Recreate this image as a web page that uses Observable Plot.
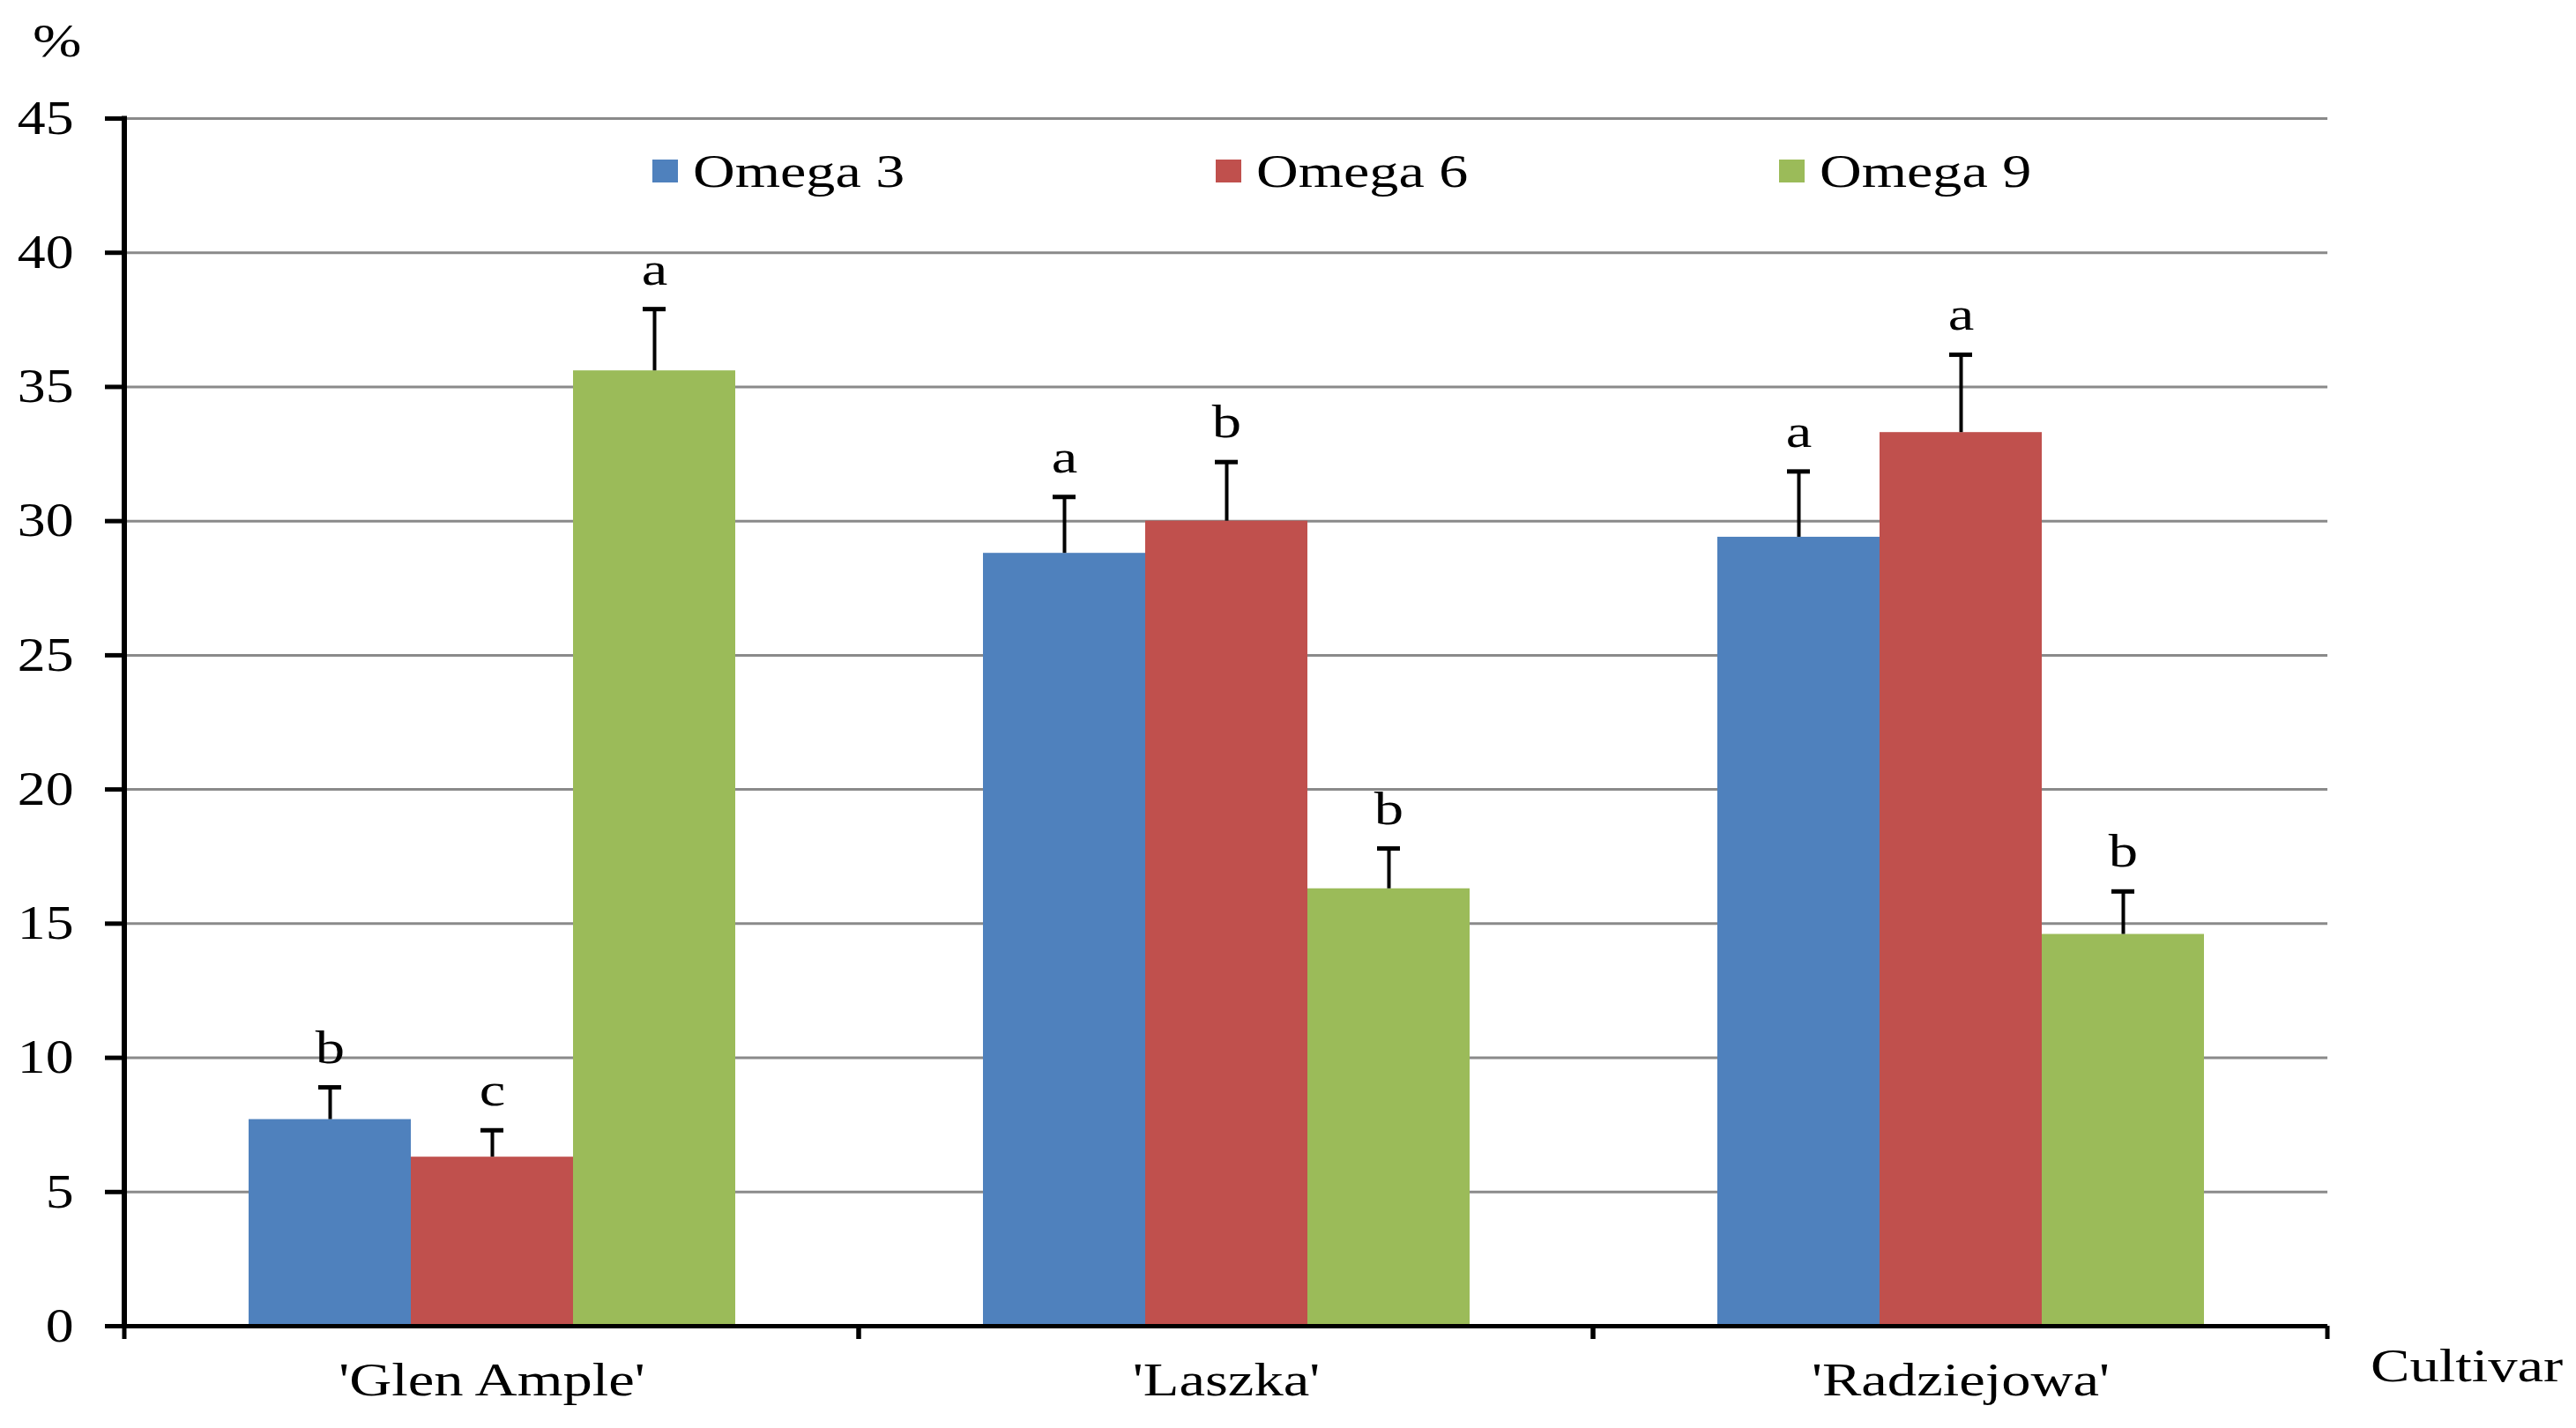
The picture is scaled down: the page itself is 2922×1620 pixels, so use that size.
<!DOCTYPE html>
<html>
<head>
<meta charset="utf-8">
<script src="https://cdn.jsdelivr.net/npm/d3@7"></script>
<script src="https://cdn.jsdelivr.net/npm/@observablehq/plot@0.6"></script>
<style>
  html, body { margin: 0; padding: 0; background: #fff; }
  #wrap { position: relative; width: 2922px; height: 1620px; font-family: "Liberation Serif", "DejaVu Serif", serif; color: #000; }
  #chart { position: absolute; left: 0; top: 0; }
  .lbl { position: absolute; font-size: 52px; line-height: 60px; white-space: nowrap; transform: scaleX(1.28); transform-origin: left center; }
  .leg { position: absolute; top: 164px; height: 60px; display: flex; align-items: center; font-size: 52px; white-space: nowrap; }
  .leg span { display: inline-block; transform: scaleX(1.27); transform-origin: left center; }
  .sw { width: 29px; height: 26px; margin-right: 17px; }
</style>
</head>
<body>
<div id="wrap">
  <div id="chart"></div>
  <div class="lbl" style="left:37px; top:17px;">%</div>
  <div class="lbl" style="left:2689px; top:1520px;">Cultivar</div>
  <div id="legend"></div>
</div>
<script>
// ---- data ----
const cultivars = ["'Glen Ample'", "'Laszka'", "'Radziejowa'"];
const series = ["Omega 3", "Omega 6", "Omega 9"];
const colors = ["#4F81BD", "#C0504D", "#9BBB59"];
const omega3 = [7.7, 28.8, 29.4];
const omega6 = [6.3, 30.0, 33.3];
const omega9 = [35.6, 16.3, 14.6];
const err3 = [1.2, 2.1, 2.45];
const err6 = [1.0, 2.2, 2.9];
const err9 = [2.3, 1.5, 1.6];
const letters3 = ["b", "a", "a"];
const letters6 = ["c", "b", "a"];
const letters9 = ["a", "b", "b"];
const yTicks = [0, 5, 10, 15, 20, 25, 30, 35, 40, 45];

const W = 2922, H = 1620;
const values = [omega3, omega6, omega9];
const errs = [err3, err6, err9];
const letters = [letters3, letters6, letters9];
const rows = [];
cultivars.forEach((c, i) => {
  series.forEach((s, j) => {
    rows.push({cultivar: c, series: s, value: values[j][i], top: values[j][i] + errs[j][i], letter: letters[j][i]});
  });
});

let calls = 0;
const decor = (index, scales, vals, dim) => {
  const g = d3.create("svg:g");
  const x0 = dim.marginLeft, x1 = dim.width - dim.marginRight;
  const y0 = scales.y(0), yTop = scales.y(45);
  let edges = [x0, x1];
  if (dim.width >= W && scales.fx) {
    edges = edges.concat(cultivars.slice(1).map(c => scales.fx(c)));
  }
  edges.forEach(x => {
    g.append("line").attr("x1", x).attr("x2", x).attr("y1", y0).attr("y2", y0 + 15)
      .attr("stroke", "#000").attr("stroke-width", 5);
  });
  if (calls++ === 0) {
    g.append("line").attr("x1", x0).attr("x2", x0).attr("y1", yTop - 2.5).attr("y2", y0 + 2.5)
      .attr("stroke", "#000").attr("stroke-width", 6);
  }
  return g.node();
};

const chart = Plot.plot({
  width: W,
  height: H,
  marginLeft: 140,
  marginRight: 281,
  marginTop: 134,
  marginBottom: 116,
  style: {fontFamily: "Liberation Serif, serif", fontSize: "52px", background: "transparent"},
  fx: {domain: cultivars, padding: 0, label: null},
  x: {domain: series, paddingInner: 0, paddingOuter: 0.76, axis: null},
  y: {domain: [0, 45], axis: null},
  color: {domain: series, range: colors},
  marks: [
    Plot.gridY(yTicks.filter(t => t > 0), {stroke: "#8a8a8a", strokeOpacity: 1, strokeWidth: 3}),
    Plot.barY(rows, {fx: "cultivar", x: "series", y: "value", fill: "series"}),
    Plot.ruleX(rows, {fx: "cultivar", x: "series", y1: "value", y2: "top", stroke: "#000", strokeWidth: 4}),
    Plot.tickY(rows, {fx: "cultivar", x: "series", y: "top", stroke: "#000", strokeWidth: 5, insetLeft: 79, insetRight: 79}),
    Plot.text(rows, {fx: "cultivar", x: "series", y: "top", text: "letter", lineAnchor: "bottom", dy: -28, fontSize: 52, fill: "#000"}),
    Plot.ruleY([0], {stroke: "#000", strokeWidth: 5}),
    Plot.axisY({ticks: yTicks, tickSize: 22, tickPadding: 36, fontSize: 54, strokeWidth: 5, stroke: "#000", label: null}),
    Plot.axisFx({anchor: "bottom", tickSize: 0, tickPadding: 42, fontSize: 52, label: null}),
    decor
  ]
});
document.getElementById("chart").appendChild(chart);

// widen glyphs horizontally (the reference type is stretched)
chart.querySelectorAll("text").forEach(t => {
  const anchor = getComputedStyle(t).textAnchor;
  const bb = t.getBBox();
  const ox = anchor === "end" ? bb.x + bb.width : anchor === "middle" ? bb.x + bb.width / 2 : bb.x;
  const prev = t.getAttribute("transform") || "";
  const k = /^\d+$/.test(t.textContent.trim()) ? 1.18 : 1.28;
  t.setAttribute("transform", `${prev} translate(${ox},0) scale(${k},1) translate(${-ox},0)`);
});

// legend (HTML, inside plot area)
const legLefts = [740, 1379, 2018];
const legend = document.getElementById("legend");
series.forEach((s, j) => {
  const item = document.createElement("div");
  item.className = "leg";
  item.style.left = legLefts[j] + "px";
  const sw = document.createElement("div");
  sw.className = "sw";
  sw.style.background = colors[j];
  const t = document.createElement("span");
  t.textContent = s;
  item.appendChild(sw);
  item.appendChild(t);
  legend.appendChild(item);
});
</script>
</body>
</html>
